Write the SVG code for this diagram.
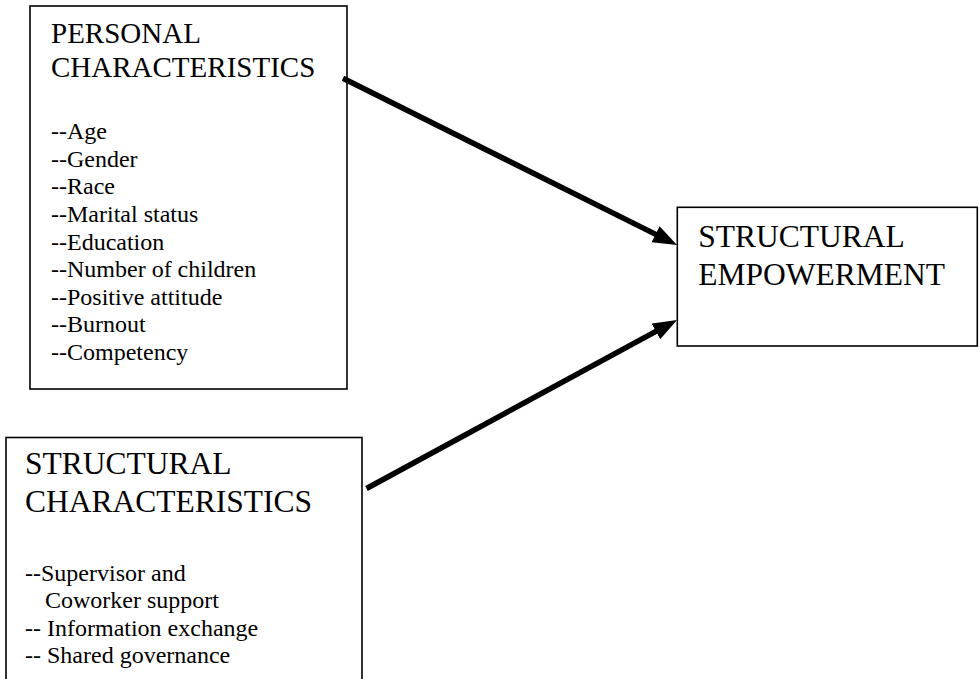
<svg xmlns="http://www.w3.org/2000/svg" width="980" height="679" viewBox="0 0 980 679">
<style>
.box{fill:#fff;stroke:#000;stroke-width:1.6}
.t{font-family:'Liberation Serif','Times New Roman',Tinos,'Noto Serif','DejaVu Serif',serif;fill:#000}
.h1{font-size:29px}
.h2{font-size:31.5px}
.li{font-size:24px}
.conn{stroke:#000;stroke-width:5.5;fill:none;marker-end:url(#ah)}
</style>
<defs>
<marker id="ah" markerUnits="userSpaceOnUse" markerWidth="26" markerHeight="20" refX="12" refY="9" orient="auto">
<path d="M0,0 L24,9 L0,18 z" fill="#000"/>
</marker>
</defs>
<rect width="980" height="679" fill="#fff"/>
<g id="personal">
<rect class="box" x="30" y="6" width="317" height="383"/>
<text class="t h1" x="51" y="43">PERSONAL</text>
<text class="t h1" x="51" y="77">CHARACTERISTICS</text>
<text class="t li" x="51" y="139.3">--Age</text>
<text class="t li" x="51" y="166.9">--Gender</text>
<text class="t li" x="51" y="194.4">--Race</text>
<text class="t li" x="51" y="222">--Marital status</text>
<text class="t li" x="51" y="249.5">--Education</text>
<text class="t li" x="51" y="277.1">--Number of children</text>
<text class="t li" x="51" y="304.6">--Positive attitude</text>
<text class="t li" x="51" y="332.2">--Burnout</text>
<text class="t li" x="51" y="359.7">--Competency</text>
</g>
<g id="structural">
<rect class="box" x="6" y="437.5" width="356" height="260"/>
<text class="t h2" x="25" y="474">STRUCTURAL</text>
<text class="t h2" x="25" y="512">CHARACTERISTICS</text>
<text class="t li" x="25" y="581">--Supervisor and</text>
<text class="t li" x="45" y="608">Coworker support</text>
<text class="t li" x="25" y="635.5">-- Information exchange</text>
<text class="t li" x="25" y="662.5">-- Shared governance</text>
</g>
<g id="empowerment">
<rect class="box" x="677.3" y="207.3" width="300" height="138.7"/>
<text class="t h2" x="698.3" y="247.3">STRUCTURAL</text>
<text class="t h2" x="698.3" y="285">EMPOWERMENT</text>
</g>
<g id="connectors">
<line class="conn" x1="343" y1="78.3" x2="666.3" y2="239.6"/>
<line class="conn" x1="366.5" y1="488.5" x2="666.5" y2="325.7"/>
</g>
</svg>
